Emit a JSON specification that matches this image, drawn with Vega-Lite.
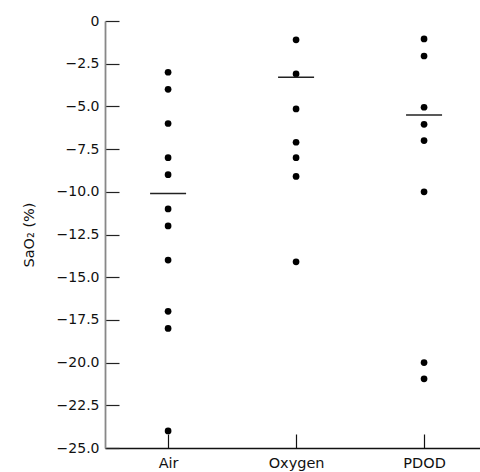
{
  "$schema": "https://vega.github.io/schema/vega-lite/v6.json",
  "width": 375,
  "height": 427,
  "autosize": {"type": "none"},
  "padding": {"left": 105, "top": 21, "right": 0, "bottom": 24},
  "background": "white",
  "config": {
    "view": {"stroke": null},
    "font": "DejaVu Sans",
    "axis": {"grid": false, "labelColor": "#111", "titleColor": "#111", "labelFont": "DejaVu Sans", "titleFont": "DejaVu Sans"}
  },
  "datasets": {
    "points": [
      {"group": "Air", "sao2": -3}, {"group": "Air", "sao2": -4}, {"group": "Air", "sao2": -6},
      {"group": "Air", "sao2": -8}, {"group": "Air", "sao2": -9}, {"group": "Air", "sao2": -11},
      {"group": "Air", "sao2": -12}, {"group": "Air", "sao2": -14}, {"group": "Air", "sao2": -17},
      {"group": "Air", "sao2": -18}, {"group": "Air", "sao2": -24},
      {"group": "Oxygen", "sao2": -1.1}, {"group": "Oxygen", "sao2": -3.1}, {"group": "Oxygen", "sao2": -5.15},
      {"group": "Oxygen", "sao2": -7.1}, {"group": "Oxygen", "sao2": -8}, {"group": "Oxygen", "sao2": -9.1},
      {"group": "Oxygen", "sao2": -14.1},
      {"group": "PDOD", "sao2": -1.05}, {"group": "PDOD", "sao2": -2.05}, {"group": "PDOD", "sao2": -5.05},
      {"group": "PDOD", "sao2": -6.05}, {"group": "PDOD", "sao2": -7}, {"group": "PDOD", "sao2": -10},
      {"group": "PDOD", "sao2": -20}, {"group": "PDOD", "sao2": -20.95}
    ],
    "medians": [
      {"group": "Air", "sao2": -10.1},
      {"group": "Oxygen", "sao2": -3.3},
      {"group": "PDOD", "sao2": -5.5}
    ]
  },
  "encoding": {
    "x": {
      "field": "group", "type": "nominal", "sort": ["Air", "Oxygen", "PDOD"],
      "scale": {"type": "point", "padding": 0.465, "align": 0.53},
      "axis": {
        "title": null, "labelAngle": 0, "labelFontSize": 14.5, "labelPadding": 22,
        "tickSize": -14, "tickColor": "#111", "tickWidth": 1.2,
        "domainColor": "#111", "domainWidth": 1.5
      }
    },
    "y": {
      "field": "sao2", "type": "quantitative",
      "scale": {"domain": [-25, 0], "nice": false, "zero": false},
      "axis": {
        "title": "SaO₂ (%)", "titleFontSize": 14.5, "titleFontWeight": "normal", "titlePadding": 20,
        "values": [0, -2.5, -5, -7.5, -10, -12.5, -15, -17.5, -20, -22.5, -25],
        "labelExpr": "datum.value == 0 ? '0' : format(datum.value, '.1f')",
        "labelFontSize": 14, "labelPadding": 20,
        "tickSize": -14, "tickColor": "#222", "tickWidth": 1.2,
        "domainColor": "#888", "domainWidth": 1.8
      }
    }
  },
  "layer": [
    {
      "data": {"name": "points"},
      "mark": {"type": "point", "filled": true, "color": "#000", "opacity": 1, "size": 45, "shape": "circle"}
    },
    {
      "data": {"name": "medians"},
      "mark": {"type": "tick", "color": "#222", "size": 36, "thickness": 1.5, "opacity": 1}
    }
  ]
}
